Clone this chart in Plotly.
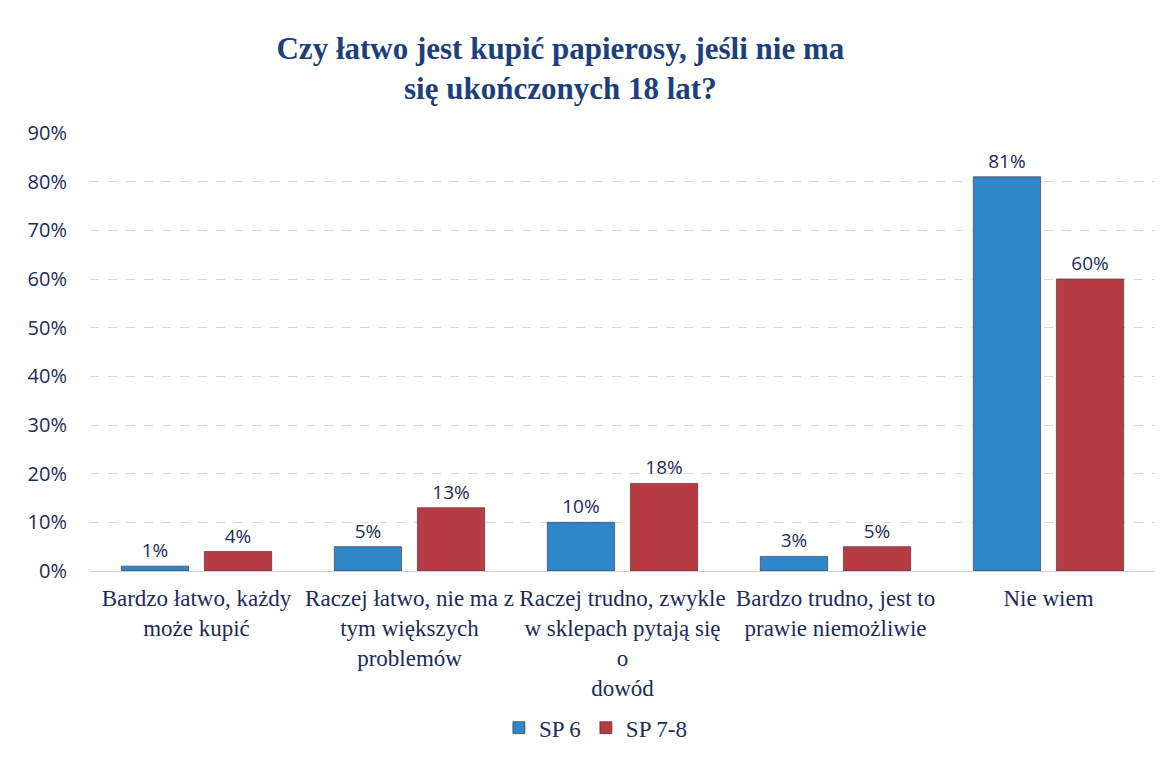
import plotly.graph_objects as go

# Survey answers (x axis categories)
categories = [
    "Bardzo łatwo, każdy<br>może kupić",
    "Raczej łatwo, nie ma z<br>tym większych<br>problemów",
    "Raczej trudno, zwykle<br>w sklepach pytają się<br>o<br>dowód",
    "Bardzo trudno, jest to<br>prawie niemożliwie",
    "Nie wiem",
]

# Share of answers per school group (%)
sp6 = [1, 5, 10, 3, 81]
sp78 = [4, 13, 18, 5, 60]

series_names = ["SP 6", "SP 7-8"]
tick_values = [0, 10, 20, 30, 40, 50, 60, 70, 80, 90]
tick_labels = [f"{v}%" for v in tick_values]

BLUE = "#2f87c9"
RED = "#b63b42"
NAVY = "#1b2b5c"
TITLE_BLUE = "#1d3f7c"

fig = go.Figure()
for name, vals, color in [(series_names[0], sp6, BLUE), (series_names[1], sp78, RED)]:
    fig.add_trace(go.Bar(
        x=categories,
        y=vals,
        name=name,
        marker=dict(color=color, line=dict(color="rgba(60,40,40,0.6)", width=1)),
        text=[f"{v}%" for v in vals],
        textposition="outside",
        textfont=dict(family="Open Sans, sans-serif", size=19, color=NAVY),
        cliponaxis=False,
    ))

fig.update_layout(
    width=1165,
    height=758,
    paper_bgcolor="white",
    plot_bgcolor="white",
    barmode="group",
    bargap=0.22,
    bargroupgap=0.19,
    margin=dict(l=90, r=10, t=133, b=187, autoexpand=False),
    title=dict(
        text="Czy łatwo jest kupić papierosy, jeśli nie ma<br>się ukończonych 18 lat?",
        x=0.481,
        xanchor="center",
        y=0.922,
        yanchor="top",
        font=dict(family="Liberation Serif, serif", size=31, color=TITLE_BLUE, weight="bold"),
    ),
    legend=dict(
        orientation="h",
        x=0.475,
        xanchor="center",
        yref="container",
        y=0.04,
        yanchor="middle",
        font=dict(family="Liberation Serif, serif", size=23, color=NAVY),
        itemwidth=30,
        traceorder="normal",
    ),
    showlegend=True,
)

fig.update_yaxes(
    range=[0, 90],
    tickvals=tick_values,
    ticktext=tick_labels,
    tickfont=dict(family="Open Sans, sans-serif", size=20, color=NAVY),
    showgrid=True,
    gridcolor="#d6d9dc",
    griddash="dash",
    gridwidth=1,
    zeroline=True,
    zerolinecolor="#cfd3d6",
    zerolinewidth=1,
    showline=False,
    ticklabelstandoff=22,
    automargin=False,
)

fig.update_xaxes(
    tickfont=dict(family="Liberation Serif, serif", size=23, color=NAVY),
    showline=False,
    showgrid=False,
    tickangle=0,
    ticklabelstandoff=11,
    automargin=False,
)

fig.write_html("out.html")
